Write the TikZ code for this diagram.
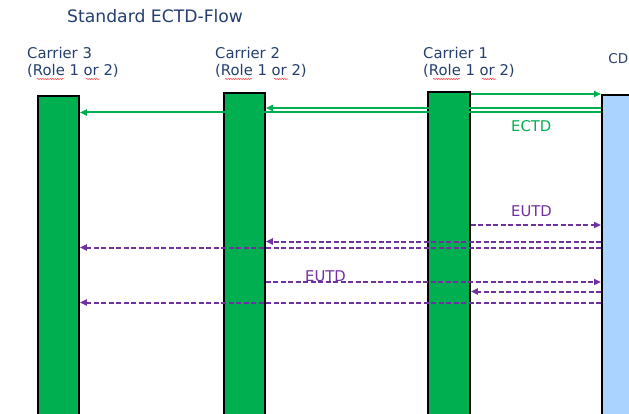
\documentclass[tikz,border=0pt]{standalone}
\usepackage{fontspec}
\setmainfont{DejaVu Sans}
\usetikzlibrary{arrows.meta,positioning,calc,decorations.pathmorphing}
\definecolor{ectdcol}{HTML}{00B050}
\definecolor{eutdcol}{HTML}{7030A0}
\definecolor{cdscol}{HTML}{AAD4FF}
\definecolor{labelcol}{HTML}{243F6E}

\begin{document}
\begin{tikzpicture}[
  x=1pt, y=-1pt,
  every node/.style={font=\fontsize{14.8}{17}\selectfont, text=labelcol, inner sep=0pt},
  lane/.style={draw=black, line width=1.8pt, fill=ectdcol, anchor=north west, minimum width=41pt, minimum height=340pt},
  cdslane/.style={lane, fill=cdscol, minimum width=60pt},
  ectd/.style={draw=ectdcol, line width=2pt, -{Triangle[length=7pt,width=6pt]}},
  eutd/.style={draw=eutdcol, line width=2pt, dash pattern=on 5pt off 2.5pt, -{Triangle[length=7pt,width=6pt]}},
  squiggle/.style={draw=red!80, line width=0.5pt, decorate, decoration={snake, amplitude=0.6pt, segment length=2.5pt}}
]
\useasboundingbox (0,0) rectangle (629,414);
\clip (0,0) rectangle (629,414);

\node[anchor=base west, font=\fontsize{17.2}{20}\selectfont] (title) at (67,23) {Standard ECTD-Flow};

% carriers and CDS
\node[anchor=base west] (c3name) at (27,59) {Carrier 3};
\node[anchor=base west] (c3role) at (27,76) {(Role 1 or 2)};
\node[anchor=base west] (c2name) at (215,59) {Carrier 2};
\node[anchor=base west] (c2role) at (215,76) {(Role 1 or 2)};
\node[anchor=base west] (c1name) at (423,59) {Carrier 1};
\node[anchor=base west] (c1role) at (423,76) {(Role 1 or 2)};
\node[anchor=base east, font=\fontsize{13.5}{16}\selectfont] (cdsname) at (628.5,64) {CD};
\foreach \r in {c3role,c2role,c1role} {
  \draw[squiggle] ($(\r.base west)+(10,3)$) -- ++(27,0);
  \draw[squiggle] ($(\r.base west)+(59,3)$) -- ++(14,0);
}

\node[lane] (c3) at (37,95) {};
\node[lane] (c2) at (223,92) {};
\node[lane, minimum width=42pt] (c1) at (427,91) {};
\node[cdslane] (cds) at (601,94) {};

% ECTD messages
\draw[ectd] (c1.east |- 0,94) -- (cds.west |- 0,94);
\draw[ectd] (cds.west |- 0,108) -- (c2.east |- 0,108);
\draw[ectd] (cds.west |- 0,112.5) -- (c3.east |- 0,112.5);
\node[anchor=base west, text=ectdcol] (ectdlbl) at (511,132) {ECTD};

% EUTD messages
\node[anchor=base west, text=eutdcol] (eutdlbl1) at (511,217) {EUTD};
\draw[eutd] (c1.east |- 0,225) -- (cds.west |- 0,225);
\draw[eutd] (cds.west |- 0,241.5) -- (c2.east |- 0,241.5);
\draw[eutd] (cds.west |- 0,247.5) -- (c3.east |- 0,247.5);
\node[anchor=base west, text=eutdcol] (eutdlbl2) at (305,281) {EUTD};
\draw[eutd] (c2.east |- 0,282) -- (cds.west |- 0,282);
\draw[eutd] (cds.west |- 0,291.5) -- (c1.east |- 0,291.5);
\draw[eutd] (cds.west |- 0,302.5) -- (c3.east |- 0,302.5);
\end{tikzpicture}
\end{document}
